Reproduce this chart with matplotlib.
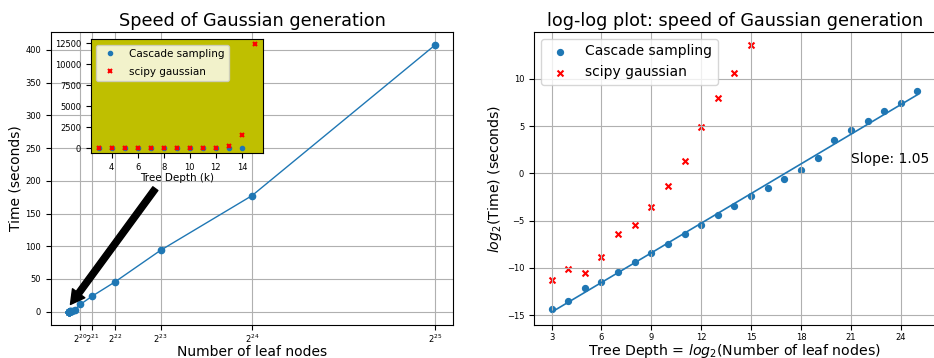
import numpy as np
import matplotlib
matplotlib.use("Agg")
import matplotlib.pyplot as plt

# tree depth k and log2(time)
depth = [3, 4, 5, 6, 7, 8, 9, 10, 11, 12, 13, 14, 15, 16, 17, 18, 19, 20, 21, 22, 23, 24, 25]
cascade_log2 = [-14.38, -13.46, -12.12, -11.49, -10.43, -9.37, -8.42, -7.47, -6.45, -5.46,
                -4.37, -3.42, -2.43, -1.55, -0.63, 0.38, 1.62, 3.49, 4.55, 5.50, 6.55, 7.47, 8.67]
scipy_depth = [3, 4, 5, 6, 7, 8, 9, 10, 11, 12, 13, 14, 15]
scipy_log2 = [-11.31, -10.08, -10.51, -8.81, -6.42, -5.46, -3.53, -1.31, 1.33, 4.89, 7.99, 10.6, 13.59]
slope_text = "Slope: 1.05"

depth = np.array(depth)
cascade_log2 = np.array(cascade_log2)
scipy_depth = np.array(scipy_depth)
scipy_log2 = np.array(scipy_log2)
leaves = 2.0 ** depth
cascade_t = 2.0 ** cascade_log2
scipy_t = 2.0 ** scipy_log2

fig = plt.figure(figsize=(9.34, 3.58), dpi=100)

# left: linear plot
ax1 = fig.add_axes([0.0543, 0.0922, 0.431, 0.819])
ax1.plot(leaves, cascade_t, "o-", ms=4.5, lw=1, color="tab:blue")
ax1.set_xticks([2**k for k in range(20, 26)])
ax1.set_xticklabels(["$2^{%d}$" % k for k in range(20, 26)])
ax1.grid(True)
ax1.tick_params(labelsize=6)
ax1.tick_params(axis="x", pad=2)
ax1.set_title("Speed of Gaussian generation", fontsize=12.7, pad=4)
ax1.set_xlabel("Number of leaf nodes", fontsize=10, labelpad=0)
ax1.set_ylabel("Time (seconds)", fontsize=10, labelpad=2)
ax1.annotate("", xy=(0.127 * 2**20, 11), xytext=(7.55 * 2**20, 188),
             arrowprops=dict(facecolor="black", width=4.5, headwidth=11, headlength=10))

# inset
ax_in = fig.add_axes([0.0971, 0.5718, 0.1842, 0.3184], facecolor="y")
ax_in.plot(depth[depth <= 14], cascade_t[depth <= 14], "o", ms=3, color="tab:blue",
           label="Cascade sampling")
ax_in.plot(scipy_depth, scipy_t, "x", ms=3.5, mew=1.5, color="red", label="scipy gaussian")
ax_in.set_xticks([4, 6, 8, 10, 12, 14])
ax_in.set_yticks([0, 2500, 5000, 7500, 10000, 12500])
ax_in.tick_params(labelsize=6)
ax_in.set_xlabel("Tree Depth (k)", fontsize=7.5, labelpad=1)
ax_in.legend(loc="upper left", fontsize=7.5, labelspacing=0.8)

# right: log-log plot
ax2 = fig.add_axes([0.5717, 0.0922, 0.4301, 0.819])
ax2.scatter(depth, cascade_log2, s=18, color="tab:blue", label="Cascade sampling")
ax2.scatter(scipy_depth, scipy_log2, s=18, marker="x", color="red", label="scipy gaussian")
fit = np.polyfit(depth, cascade_log2, 1)
ax2.plot(depth, np.polyval(fit, depth), lw=1.2, color="tab:blue")
ax2.text(21, 1.5, slope_text, fontsize=10, va="center")
ax2.set_xticks([3, 6, 9, 12, 15, 18, 21, 24])
ax2.set_xlim(1.94, 26.1)
ax2.set_ylim(-16.04, 14.97)
ax2.grid(True)
ax2.tick_params(labelsize=6)
ax2.tick_params(axis="x", pad=2)
ax2.set_title("log-log plot: speed of Gaussian generation", fontsize=12.7, pad=4)
ax2.set_xlabel("Tree Depth = $log_2$(Number of leaf nodes)", fontsize=10.2, labelpad=0)
ax2.set_ylabel("$log_2$(Time) (seconds)", fontsize=10.2, labelpad=2)
ax2.legend(loc="upper left", fontsize=10)

fig.savefig("out.png", dpi=100)
